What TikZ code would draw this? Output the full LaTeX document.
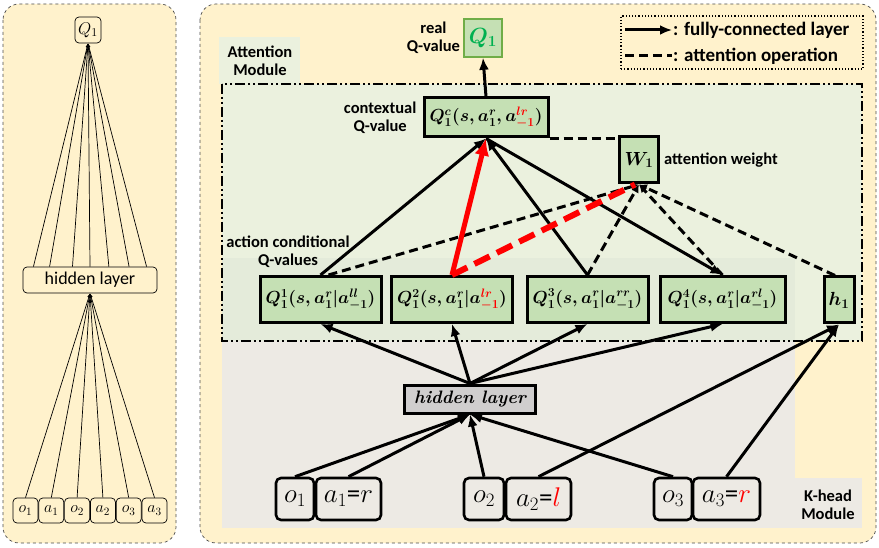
\RequirePackage{fix-cm}
\documentclass[tikz,border=0pt]{standalone}
\usepackage{amsmath}
\usepackage{amssymb}
\usepackage{fontspec}
\setsansfont{Carlito}
\usetikzlibrary{arrows.meta,positioning,calc}

\definecolor{panelyellow}{HTML}{FFF2CC}
\definecolor{attngreen}{HTML}{EBF1DE}
\definecolor{mixgreen}{HTML}{E4EBDA}
\definecolor{kheadgray}{HTML}{EDEAE4}
\definecolor{qgreen}{HTML}{C5E0B4}
\definecolor{hiddengray}{HTML}{D0CECE}
\definecolor{realgreen}{HTML}{00B050}
\definecolor{realgreenedge}{HTML}{70AD47}

\newcommand{\lblfont}{\sffamily\bfseries\fontsize{16.5}{18}\selectfont}
\newcommand{\qfont}{\boldmath\fontsize{17.5}{18}\selectfont}

\begin{document}
\begin{tikzpicture}[x=1pt,y=-1pt]
    \useasboundingbox (0,0) rectangle (879,548);
    \tikzstyle{PanelStyle}=[draw=black!70,dashed,fill=panelyellow,rounded corners=16pt,line width=0.7pt]
    \tikzstyle{PlainBox}=[draw,rounded corners=4pt,fill=panelyellow,line width=0.7pt,inner sep=1pt,font=\fontsize{16}{17}\selectfont]
    \tikzstyle{ThinEdge}=[line width=0.7pt,-{Latex[length=4pt,width=3pt]}]
    \tikzstyle{QBox}=[draw,fill=qgreen,line width=3pt,inner sep=1pt,minimum height=46pt,font=\qfont]
    \tikzstyle{InBox}=[draw,fill=kheadgray,rounded corners=5pt,line width=2.6pt,inner sep=2pt,minimum height=42pt,font=\fontsize{27}{28}\selectfont]
    \tikzstyle{FcEdge}=[line width=3pt,-{Latex[length=12pt,width=10pt]}]
    \tikzstyle{AttnEdge}=[line width=3pt,dash pattern=on 9pt off 5pt]
    \tikzstyle{AttnTip}=[-{Latex[length=8pt,width=8pt]}]
    \tikzstyle{RedEdge}=[red,line width=5pt,-{Latex[length=17pt,width=15pt]}]
    \tikzstyle{RedDash}=[red,line width=6pt,dash pattern=on 17pt off 8pt]
    \tikzstyle{LabelStyle}=[font=\lblfont,align=center,inner sep=1pt]

    % left: plain network
    \draw[PanelStyle] (3,4) rectangle (176,543);
    \node[PlainBox,minimum width=26pt,minimum height=26pt,font=\fontsize{17}{18}\selectfont] (lq) at (88,30) {$Q_1$};
    \node[PlainBox,minimum width=134pt,minimum height=26pt,font=\sffamily\fontsize{18}{19}\selectfont] (lhid) at (90,280) {hidden layer};
    \foreach \name/\txt [count=\i] in {lo1/o_1,la1/a_1,lo2/o_2,la2/a_2,lo3/o_3,la3/a_3}{
        \node[PlainBox,minimum width=25pt,minimum height=25pt] (\name) at ({25.5+25.8*(\i-1)},510.5) {$\txt$};
        \draw[ThinEdge] (\name.north) -- (lhid.south);
    }
    \foreach \f in {0.08,0.2,0.37,0.5,0.64,0.79,0.92}
        \draw[ThinEdge] ($(lhid.north west)!\f!(lhid.north east)$) -- (lq.south);

    % right: attention network
    \draw[PanelStyle] (200,4) rectangle (876,543);
    \fill[kheadgray] (222,341) rectangle (795,528);
    \fill[kheadgray] (795,478) rectangle (862,528);
    \fill[attngreen] (222,84) rectangle (862,341);
    \fill[mixgreen] (222,258) rectangle (795,341);
    \fill[attngreen] (219,37) rectangle (300,84);
    \draw[line width=2.4pt,dash pattern=on 10pt off 3pt on 2pt off 3pt on 2pt off 3pt] (222,84) rectangle (862,341);

    % legend
    \node[draw,dotted,line width=1.2pt,minimum width=242pt,minimum height=53pt] (legend) at (742,42.5) {};
    \coordinate (fcA) at (625,30);
    \coordinate (fcB) at (672,30);
    \coordinate (atA) at (625,56);
    \coordinate (atB) at (672,56);
    \draw[FcEdge] (fcA) -- (fcB);
    \draw[AttnEdge] (atA) -- (atB);
    \node[LabelStyle,font=\sffamily\bfseries\fontsize{19}{20}\selectfont,anchor=west] (fclbl) at (fcB) {: fully-connected layer};
    \node[LabelStyle,font=\sffamily\bfseries\fontsize{19}{20}\selectfont,anchor=west] (atlbl) at (atB) {: attention operation};

    % Q-value nodes
    \node[QBox,draw=realgreenedge,line width=1.6pt,minimum width=38pt,minimum height=38pt,text=realgreen,font=\boldmath\fontsize{22}{23}\selectfont] (realq) at (483,38) {$Q_1$};
    \node[LabelStyle,left=2pt of realq] (reallbl) {real\\Q-value};
    \node[QBox,minimum width=124pt,minimum height=39pt] (qc) at (486,117.5) {$Q_1^c(s,a_1^r,a_{-1}^{\color{red}lr})$};
    \node[LabelStyle,left=5pt of qc] (qclbl) {contextual\\Q-value};
    \node[QBox,minimum width=39pt,font=\boldmath\fontsize{19}{20}\selectfont] (w1) at (639,160) {$W_1$};
    \node[LabelStyle,right=3pt of w1] (w1lbl) {attention weight};
    \node[QBox,minimum width=121pt] (qv1) at (320.5,299.5) {$Q_1^1(s,a_1^r|a_{-1}^{ll})$};
    \node[QBox,minimum width=121pt] (qv2) at (452,299.5) {$Q_1^2(s,a_1^r|a_{-1}^{\color{red}lr})$};
    \node[QBox,minimum width=121pt] (qv3) at (587.5,299.5) {$Q_1^3(s,a_1^r|a_{-1}^{rr})$};
    \node[QBox,minimum width=125pt] (qv4) at (722.5,299.5) {$Q_1^4(s,a_1^r|a_{-1}^{rl})$};
    \node[QBox,minimum width=30pt,font=\boldmath\fontsize{19}{20}\selectfont] (h1) at (839,300) {$h_1$};
    \node[LabelStyle] (aclbl) at (288,252) {action conditional\\Q-values};
    \node[LabelStyle] (attnlbl) at (260,61) {Attention\\Module};
    \node[LabelStyle] (kheadlbl) at (828,505) {K-head\\Module};

    % K-head inputs
    \node[draw,fill=hiddengray,line width=3pt,minimum width=131pt,minimum height=28pt,font=\bfseries\itshape\fontsize{18}{19}\selectfont] (hid) at (470,399) {hidden layer};
    \node[InBox,minimum width=38pt] (o1) at (295,499) {$o_1$};
    \node[InBox,minimum width=65pt] (a1) at (348.5,499) {$a_1${\sffamily=}$r$};
    \node[InBox,minimum width=40pt] (o2) at (484,499) {$o_2$};
    \node[InBox,minimum width=65pt] (a2) at (538.5,499) {$a_2${\sffamily=}$\color{red}l$};
    \node[InBox,minimum width=38pt] (o3) at (673,499) {$o_3$};
    \node[InBox,minimum width=67pt] (a3) at (726.5,499) {$a_3${\sffamily=}$\color{red}r$};

    % fully-connected layers
    \draw[FcEdge] (qc.north) -- (realq.south);
    \draw[FcEdge] (qv1.north) -- (qc.south);
    \draw[FcEdge] (qv3.north) -- (qc.south);
    \draw[FcEdge] (qc.south) -- (qv4.north);
    \foreach \k in {1,...,4}
        \draw[FcEdge] (hid.north) -- (qv\k.south);
    \foreach \n in {o1,a1,o2,o3}
        \draw[FcEdge] (\n.north) -- (hid.south);
    \draw[FcEdge] (a2.north) -- (h1.south);
    \draw[FcEdge] (a3.north) -- (h1.south);

    % attention operation
    \draw[AttnEdge] (qc.south east) -- (qc.south east -| w1.west);
    \draw[AttnEdge,AttnTip] ([xshift=8pt]qv1.north) -- (w1.south);
    \draw[AttnEdge,AttnTip] (qv3.north) -- (w1.south);
    \draw[AttnEdge,AttnTip] (qv4.north) -- (w1.south);
    \draw[AttnEdge,AttnTip] ([xshift=-4pt]h1.north) -- (w1.south);
    \draw[RedDash] (qv2.north) -- ([xshift=-4pt]w1.south);
    \draw[RedEdge] (qv2.north) -- (qc.south);
\end{tikzpicture}
\end{document}
